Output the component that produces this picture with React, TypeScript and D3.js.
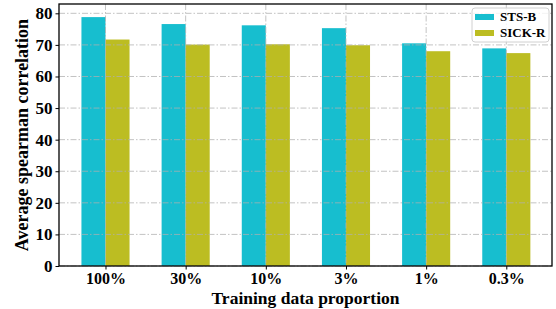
import React, { useEffect, useRef } from "react";
import { select, scaleLinear, axisLeft, axisBottom } from "d3";

const categories = ["100%", "30%", "10%", "3%", "1%", "0.3%"];
const stsb = [78.8, 76.6, 76.2, 75.3, 70.5, 68.9];
const sickr = [71.7, 70.1, 70.2, 69.9, 68.0, 67.4];
const seriesNames = ["STS-B", "SICK-R"];
const colors = ["#17becf", "#bcbd22"];
const yTicks = [0, 10, 20, 30, 40, 50, 60, 70, 80];

const W = 556;
const H = 309;
const font = "'Liberation Serif', 'Times New Roman', serif";

export default function App() {
  const svgRef = useRef() as React.MutableRefObject<SVGSVGElement>;

  useEffect(() => {
    const svg = select(svgRef.current);
    svg.selectAll("*").remove();

    const margin = { top: 4, right: 4, bottom: 43, left: 59 };
    const x = scaleLinear()
      .domain([-0.58, 5.57])
      .range([margin.left, W - margin.right]);
    const y = scaleLinear()
      .domain([0, 82.95])
      .range([H - margin.bottom, margin.top]);
    const barW = x(0.3) - x(0);

    // bars
    const series = [stsb, sickr];
    series.forEach((vals, s) => {
      svg
        .append("g")
        .selectAll("rect")
        .data(vals)
        .join("rect")
        .attr("x", (_, i) => x(i + (s === 0 ? -0.3 : 0)))
        .attr("y", (d) => y(d))
        .attr("width", barW)
        .attr("height", (d) => y(0) - y(d))
        .attr("fill", colors[s]);
    });

    // grid (drawn above bars like the original)
    const grid = svg
      .append("g")
      .attr("stroke", "#b0b0b0")
      .attr("stroke-width", 1)
      .attr("stroke-dasharray", "6,2,1.5,2")
      .attr("opacity", 0.75);
    grid
      .selectAll("line.h")
      .data(yTicks)
      .join("line")
      .attr("class", "h")
      .attr("x1", margin.left)
      .attr("x2", W - margin.right)
      .attr("y1", (d) => y(d))
      .attr("y2", (d) => y(d));
    grid
      .selectAll("line.v")
      .data(categories)
      .join("line")
      .attr("class", "v")
      .attr("x1", (_, i) => x(i))
      .attr("x2", (_, i) => x(i))
      .attr("y1", margin.top)
      .attr("y2", H - margin.bottom);

    // axes
    const yAxis = axisLeft(y).tickValues(yTicks).tickSize(3.5).tickPadding(3);
    const gy = svg
      .append("g")
      .attr("transform", `translate(${margin.left},0)`)
      .call(yAxis);
    gy.select(".domain").remove();
    gy.selectAll("text")
      .style("font-family", font)
      .style("font-weight", "bold")
      .style("font-size", "17px")
      .attr("fill", "#000");

    const xAxis = axisBottom(x)
      .tickValues(categories.map((_, i) => i))
      .tickFormat((_, i) => categories[i])
      .tickSize(3.5)
      .tickPadding(3);
    const gx = svg
      .append("g")
      .attr("transform", `translate(0,${H - margin.bottom})`)
      .call(xAxis);
    gx.select(".domain").remove();
    gx.selectAll("text")
      .style("font-family", font)
      .style("font-weight", "bold")
      .style("font-size", "16px")
      .attr("fill", "#000");

    // frame
    svg
      .append("rect")
      .attr("x", margin.left)
      .attr("y", margin.top)
      .attr("width", W - margin.left - margin.right)
      .attr("height", H - margin.top - margin.bottom)
      .attr("fill", "none")
      .attr("stroke", "#000")
      .attr("stroke-width", 1.3);

    // axis titles
    svg
      .append("text")
      .attr("x", x((-0.58 + 5.57) / 2))
      .attr("y", 304)
      .attr("text-anchor", "middle")
      .style("font-family", font)
      .style("font-weight", "bold")
      .style("font-size", "17.5px")
      .text("Training data proportion");
    svg
      .append("text")
      .attr("transform", `translate(28,${(margin.top + H - margin.bottom) / 2}) rotate(-90)`)
      .attr("text-anchor", "middle")
      .style("font-family", font)
      .style("font-weight", "bold")
      .style("font-size", "18px")
      .text("Average spearman correlation");

    // legend
    const lg = svg.append("g").attr("transform", "translate(472,8)");
    lg.append("rect")
      .attr("width", 77)
      .attr("height", 34)
      .attr("rx", 3)
      .attr("fill", "#fff")
      .attr("fill-opacity", 0.8)
      .attr("stroke", "#d0d0d0");
    seriesNames.forEach((name, i) => {
      lg.append("rect")
        .attr("x", 3)
        .attr("y", 6 + i * 16)
        .attr("width", 19)
        .attr("height", 6)
        .attr("fill", colors[i]);
      lg.append("text")
        .attr("x", 28)
        .attr("y", 13 + i * 16)
        .style("font-family", font)
        .style("font-weight", "bold")
        .style("font-size", "13px")
        .text(name);
    });
  }, []);

  return (
    <>
      <style>{`body{margin:0}`}</style>
      <svg ref={svgRef} width={W} height={H} style={{ display: "block", background: "#fff" }} />
    </>
  );
}
